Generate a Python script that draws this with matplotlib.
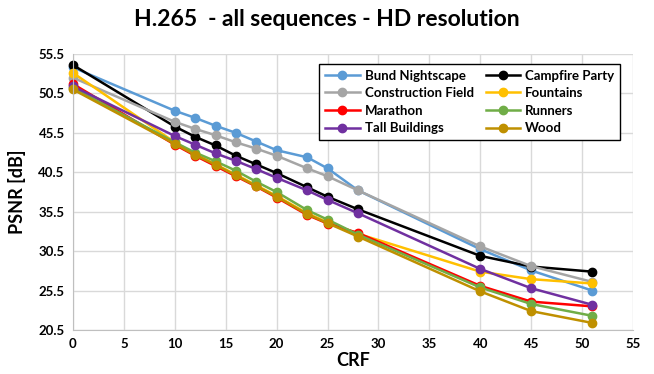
import matplotlib.pyplot as plt
import numpy as np

# %% Style
FONT = ["Lato", "DejaVu Sans"]
GRID_COLOR = "#d9d9d9"
AXIS_COLOR = "#bfbfbf"

plt.rcParams.update(
    {
        "font.family": FONT,
        "font.weight": "bold",
        "font.size": 9.5,
        "axes.edgecolor": AXIS_COLOR,
        "xtick.labelsize": 9.5,
        "ytick.labelsize": 9.5,
    }
)

# %% Data
crf = [0, 10, 12, 14, 16, 18, 20, 23, 25, 28, 40, 45, 51]

bund_nightscape = [53.8, 48.3, 47.4, 46.4, 45.5, 44.4, 43.3, 42.4, 41.0, 38.2, 30.75, 28.05, 25.5]
campfire_party = [54.1, 46.3, 45.0, 43.9, 42.6, 41.5, 40.4, 38.6, 37.4, 35.8, 29.9, 28.55, 27.9]
construction_field = [52.5, 46.9, 46.0, 45.2, 44.3, 43.5, 42.6, 41.0, 40.0, 38.2, 31.1, 28.6, 26.6]
fountains = [53.1, 44.3, 42.8, 41.5, 40.2, 38.85, 37.5, 35.3, 34.15, 32.7, 27.9, 26.95, 26.4]
marathon = [51.7, 44.0, 42.6, 41.3, 40.0, 38.7, 37.3, 35.1, 34.0, 32.8, 26.1, 24.1, 23.5]
runners = [51.2, 44.3, 43.0, 41.9, 40.7, 39.3, 38.0, 35.7, 34.5, 32.6, 25.9, 23.8, 22.3]
tall_buildings = [51.4, 45.1, 44.0, 42.9, 41.95, 40.9, 39.8, 38.2, 37.0, 35.3, 28.25, 25.8, 23.7]
wood = [51.0, 44.1, 42.7, 41.45, 40.1, 38.75, 37.4, 35.2, 34.05, 32.35, 25.4, 22.9, 21.4]

series = [
    ("Bund Nightscape", bund_nightscape, "#5b9bd5"),
    ("Campfire Party", campfire_party, "#000000"),
    ("Construction Field", construction_field, "#a5a5a5"),
    ("Fountains", fountains, "#ffc000"),
    ("Marathon", marathon, "#ff0000"),
    ("Runners", runners, "#70ad47"),
    ("Tall Buildings", tall_buildings, "#7030a0"),
    ("Wood", wood, "#bf9000"),
]

x_ticks = np.arange(0, 56, 5)
y_ticks = np.arange(20.5, 56, 5)

if __name__ == "__main__":
    fig = plt.figure(figsize=(6.54, 3.74), dpi=100)
    ax = fig.add_axes([0.1116, 0.1176, 0.8563, 0.738])

    handles = {}
    for name, vals, color in series:
        (hdl,) = ax.plot(crf, vals, color=color, marker="o", markersize=6,
                         linewidth=1.8, label=name, clip_on=False)
        handles[name] = hdl

    ax.set_xlim(0, 55)
    ax.set_ylim(20.5, 55.5)
    ax.set_xticks(x_ticks)
    ax.set_yticks(y_ticks)
    ax.set_yticklabels([f"{v:.1f}" for v in y_ticks])
    ax.tick_params(length=0, pad=6)
    ax.grid(True, color=GRID_COLOR, linewidth=1)
    ax.set_axisbelow(True)
    for side in ["top", "right"]:
        ax.spines[side].set_visible(False)

    ax.set_xlabel("CRF", fontsize=13, fontweight="bold", labelpad=1)
    ax.set_ylabel("PSNR [dB]", fontsize=13, fontweight="bold", labelpad=9)
    fig.suptitle("H.265  - all sequences - HD resolution", fontsize=16.5,
                 fontweight="bold", x=0.5, y=0.975)

    # legend is column-major in Excel order
    order = ["Bund Nightscape", "Construction Field", "Marathon", "Tall Buildings",
             "Campfire Party", "Fountains", "Runners", "Wood"]
    leg = ax.legend([handles[n] for n in order], order, ncols=2,
                    loc="upper right", bbox_to_anchor=(0.9587, 0.8476),
                    bbox_transform=fig.transFigure, fancybox=False,
                    framealpha=1, edgecolor="black", fontsize=9.5,
                    handlelength=2.6, handletextpad=0.4, columnspacing=0.9,
                    labelspacing=0.42, borderpad=0.45)
    leg.get_frame().set_linewidth(1)

    plt.savefig("out.png", dpi=100)
